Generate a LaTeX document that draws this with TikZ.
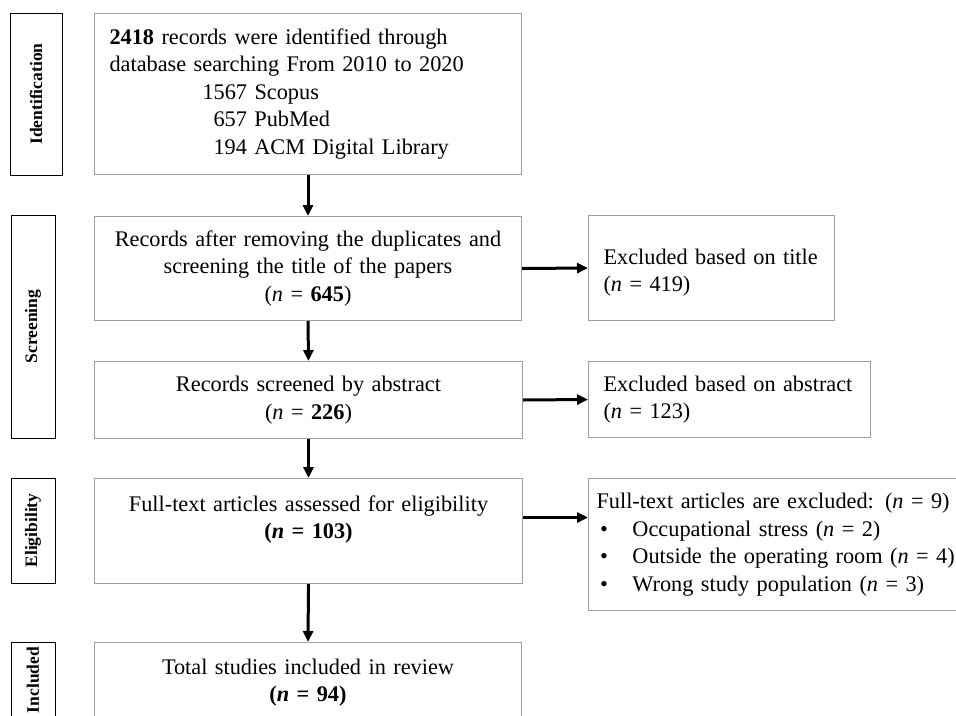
\documentclass[tikz,border=0pt]{standalone}
\usepackage{fontspec}
\setmainfont{Liberation Serif}
\usetikzlibrary{arrows.meta}
\definecolor{boxgray}{rgb}{0.62,0.62,0.62}

\tikzset{
  stagebox/.style={draw=boxgray, line width=1pt, anchor=north west, inner sep=0pt,
    font=\fontsize{22.3}{27.5}\selectfont},
  sidebox/.style={draw=black, line width=1pt, inner sep=0pt, rotate=90,
    font=\fontsize{17.5}{20}\selectfont\bfseries},
  arr/.style={line width=3pt, -{Triangle[length=11pt,width=10pt]}}
}

\begin{document}
\begin{tikzpicture}[x=1pt,y=-1pt]
\useasboundingbox (0,0) rectangle (956,715);
\clip (0,0) rectangle (956,715);

% stage labels
\node[sidebox, minimum width=162, minimum height=52] (lident) at (36,94) {Identification};
\node[sidebox, minimum width=223, minimum height=44] (lscreen) at (33,326.5) {Screening};
\node[sidebox, minimum width=105, minimum height=44] (lelig) at (33,530.5) {Eligibility};
\node[sidebox, minimum width=76, minimum height=44] (lincl) at (33,680) {Included};

% main column
\node[stagebox, minimum width=427, minimum height=161, text width=397, align=left] (ident) at (94,13)
  {\textbf{2418} records were identified through\\
   database searching From 2010 to 2020\\
   \hspace*{93pt}1567 Scopus\\
   \hspace*{104pt}657 PubMed\\
   \hspace*{104pt}194 ACM Digital Library};
\node[stagebox, minimum width=427, minimum height=104, text width=397, align=center] (screen) at (94,216)
  {Records after removing the duplicates and\\
   screening the title of the papers\\
   (\textit{n} = \textbf{645})};
\node[stagebox, minimum width=428, minimum height=77, text width=398, align=center] (abstr) at (94,361)
  {Records screened by abstract\\
   (\textit{n} = \textbf{226})};
\node[stagebox, minimum width=428, minimum height=105, text width=398, align=center] (elig) at (94,478)
  {Full-text articles assessed for eligibility\\
   \textbf{(\textit{n} = 103)}\\ \mbox{}};
\node[stagebox, minimum width=427, minimum height=80, text width=397, align=center] (incl) at (94,642)
  {Total studies included in review\\
   \textbf{(\textit{n} = 94)}};

% excluded column
\node[stagebox, minimum width=246, minimum height=105, text width=216, align=left] (extitle) at (588,215)
  {\rule{0pt}{25pt}Excluded based on title\\
   (\textit{n} = 419)};
\node[stagebox, minimum width=282, minimum height=76, text width=252, align=left] (exabs) at (588,361)
  {Excluded based on abstract\\
   (\textit{n} = 123)};
\node[stagebox, minimum width=380, minimum height=132, text width=364, align=left] (exfull) at (588,478)
  {Full-text articles are excluded: (\textit{n} = 9)\\
   \makebox[36pt][l]{\,\textbullet}Occupational stress (\textit{n} = 2)\\
   \makebox[36pt][l]{\,\textbullet}Outside the operating room (\textit{n} = 4)\\
   \makebox[36pt][l]{\,\textbullet}Wrong study population (\textit{n} = 3)};

% arrows
\draw[arr] (ident.south) -- (screen.north);
\draw[arr] (screen.south) -- (abstr.north);
\draw[arr] (abstr.south) -- (elig.north);
\draw[arr] (elig.south) -- (incl.north);
\draw[arr] (screen.east) -- (extitle.west);
\draw[arr] (abstr.east) -- (exabs.west);
\coordinate (efrom) at ([yshift=13.5pt]elig.east);
\draw[arr] (efrom) -- (efrom -| exfull.west);
\end{tikzpicture}
\end{document}
